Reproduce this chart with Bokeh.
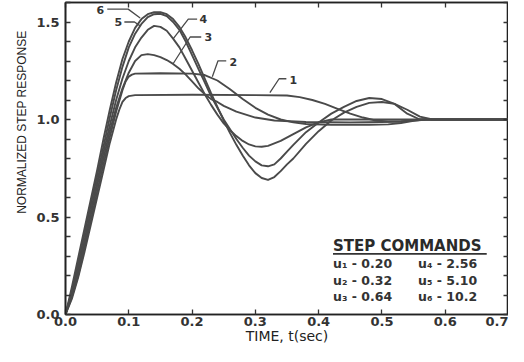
from bokeh.plotting import figure
from bokeh.models import FixedTicker, LinearAxis, Range1d, PrintfTickFormatter, CustomJSTickFormatter, Title
from bokeh.embed import file_html
from bokeh.resources import INLINE
from bokeh.core.properties import value

# ---------------- data ----------------
t_1 = [0, 0.01, 0.02, 0.03, 0.04, 0.05, 0.06, 0.07, 0.08, 0.085, 0.09, 0.095, 0.10, 0.11, 0.20, 0.30, 0.35,
       0.37, 0.39, 0.41, 0.43, 0.45, 0.47, 0.49, 0.51, 0.53, 0.55, 0.57, 0.60, 0.70]
y_1 = [0, 0.08, 0.19, 0.32, 0.46, 0.60, 0.74, 0.88, 1.00, 1.05, 1.09, 1.11, 1.12, 1.125, 1.127, 1.125, 1.123,
       1.115, 1.10, 1.08, 1.055, 1.03, 1.01, 0.995, 0.99, 0.99, 0.995, 1.0, 1.0, 1.0]

t_2 = [0, 0.01, 0.02, 0.03, 0.04, 0.05, 0.06, 0.07, 0.08, 0.09, 0.095, 0.10, 0.105, 0.11, 0.15, 0.20, 0.22,
       0.24, 0.26, 0.28, 0.30, 0.32, 0.34, 0.36, 0.38, 0.42, 0.48, 0.51, 0.53, 0.55, 0.57, 0.70]
y_2 = [0, 0.09, 0.20, 0.34, 0.48, 0.63, 0.77, 0.91, 1.04, 1.15, 1.195, 1.22, 1.23, 1.235, 1.237, 1.235, 1.228,
       1.20, 1.155, 1.105, 1.06, 1.025, 1.0, 0.985, 0.977, 0.973, 0.973, 0.975, 0.982, 0.993, 1.0, 1.0]

t_3 = [0, 0.01, 0.02, 0.03, 0.04, 0.05, 0.06, 0.07, 0.08, 0.09, 0.10, 0.11, 0.12, 0.13, 0.14, 0.15, 0.16,
       0.17, 0.18, 0.19, 0.20, 0.21, 0.22, 0.23, 0.24, 0.25, 0.27, 0.30, 0.33, 0.38, 0.45, 0.50, 0.53, 0.56, 0.70]
y_3 = [0, 0.10, 0.22, 0.36, 0.51, 0.66, 0.80, 0.94, 1.06, 1.16, 1.24, 1.30, 1.33, 1.335, 1.33, 1.32, 1.305,
       1.285, 1.26, 1.23, 1.195, 1.16, 1.13, 1.105, 1.09, 1.07, 1.04, 1.01, 0.995, 0.987, 0.985, 0.987, 0.99, 1.0, 1.0]

t_4 = [0, 0.01, 0.02, 0.03, 0.04, 0.05, 0.06, 0.07, 0.08, 0.09, 0.10, 0.11, 0.12, 0.13, 0.14, 0.15, 0.16,
       0.17, 0.18, 0.19, 0.20, 0.21, 0.22, 0.23, 0.24, 0.25, 0.26, 0.27, 0.28, 0.29, 0.30, 0.31, 0.32, 0.34,
       0.36, 0.38, 0.40, 0.42, 0.70]
y_4 = [0, 0.11, 0.24, 0.38, 0.53, 0.68, 0.83, 0.97, 1.10, 1.21, 1.30, 1.37, 1.42, 1.46, 1.48, 1.475, 1.455,
       1.415, 1.37, 1.31, 1.25, 1.19, 1.13, 1.075, 1.025, 0.98, 0.945, 0.915, 0.89, 0.872, 0.862, 0.86, 0.865, 0.89,
       0.925, 0.96, 0.985, 1.0, 1.0]

t_5 = [0, 0.01, 0.02, 0.03, 0.04, 0.05, 0.06, 0.07, 0.08, 0.09, 0.10, 0.11, 0.12, 0.13, 0.14, 0.15, 0.16,
       0.17, 0.18, 0.19, 0.20, 0.21, 0.22, 0.23, 0.24, 0.25, 0.26, 0.27, 0.28, 0.29, 0.30, 0.31, 0.32, 0.33,
       0.34, 0.35, 0.36, 0.38, 0.40, 0.42, 0.44, 0.46, 0.48, 0.50, 0.52, 0.54, 0.56, 0.58, 0.70]
y_5 = [0, 0.12, 0.26, 0.41, 0.56, 0.71, 0.86, 1.01, 1.15, 1.27, 1.37, 1.44, 1.49, 1.525, 1.54, 1.542, 1.53,
       1.50, 1.46, 1.40, 1.33, 1.26, 1.19, 1.12, 1.06, 1.0, 0.95, 0.90, 0.855, 0.815, 0.785, 0.765, 0.76, 0.77,
       0.80, 0.835, 0.87, 0.935, 0.985, 1.03, 1.065, 1.095, 1.11, 1.105, 1.08, 1.03, 1.0, 1.0, 1.0]

t_6 = [0, 0.01, 0.02, 0.03, 0.04, 0.05, 0.06, 0.07, 0.08, 0.09, 0.10, 0.11, 0.12, 0.13, 0.14, 0.15, 0.16,
       0.17, 0.18, 0.19, 0.20, 0.21, 0.22, 0.23, 0.24, 0.25, 0.26, 0.27, 0.28, 0.29, 0.30, 0.31, 0.32, 0.33,
       0.34, 0.35, 0.36, 0.38, 0.40, 0.42, 0.44, 0.46, 0.48, 0.50, 0.52, 0.54, 0.56, 0.58, 0.70]
y_6 = [0, 0.14, 0.29, 0.44, 0.59, 0.74, 0.90, 1.05, 1.19, 1.31, 1.40, 1.47, 1.515, 1.54, 1.55, 1.55, 1.54,
       1.515, 1.475, 1.42, 1.355, 1.285, 1.21, 1.135, 1.065, 0.995, 0.93, 0.87, 0.815, 0.765, 0.725, 0.70, 0.69,
       0.705, 0.735, 0.77, 0.80, 0.875, 0.94, 0.995, 1.035, 1.065, 1.085, 1.09, 1.08, 1.05, 1.015, 1.0, 1.0]

curve_names = ["1", "2", "3", "4", "5", "6"]
step_names = ["u\u2081", "u\u2082", "u\u2083", "u\u2084", "u\u2085", "u\u2086"]
step_values = ["0.20", "0.32", "0.64", "2.56", "5.10", "10.2"]
x_ticks = [0.0, 0.1, 0.2, 0.3, 0.4, 0.5, 0.6, 0.7]
y_ticks = [0.0, 0.5, 1.0, 1.5]
y_minor = [0.1, 0.2, 0.3, 0.4, 0.6, 0.7, 0.8, 0.9, 1.1, 1.2, 1.3, 1.4, 1.6]
x_title = "TIME, t(sec)"
y_title = "NORMALIZED STEP RESPONSE"

# --------------- figure ----------------
INK = "#333333"
LINE = "#4a4a4a"
FONT = "Liberation Sans"
WIDE = "DejaVu Sans"

p = figure(width=508, height=346, x_range=Range1d(0, 0.7), y_range=Range1d(0, 1.6),
           output_backend="svg", toolbar_location=None,
           min_border_left=65, min_border_top=2, min_border_right=0, min_border_bottom=0)
p.xgrid.visible = False
p.ygrid.visible = False
p.outline_line_color = "#222222"
p.outline_line_width = 1.6
p.background_fill_color = "white"
p.border_fill_color = "white"

xt = FixedTicker(ticks=x_ticks)
yt = FixedTicker(ticks=y_ticks, minor_ticks=y_minor)
blank = CustomJSTickFormatter(code="return ''")


def style_axis(ax, labels=True):
    ax.axis_line_color = "#222222"
    ax.axis_line_width = 1.6
    ax.major_tick_in = 5
    ax.major_tick_out = 0
    ax.minor_tick_in = 5
    ax.minor_tick_out = 0
    ax.major_tick_line_color = "#333333"
    ax.minor_tick_line_color = "#333333"
    ax.major_tick_line_width = 1.3
    ax.minor_tick_line_width = 1.3
    ax.major_label_text_font = WIDE
    ax.major_label_text_font_style = "bold"
    ax.major_label_text_color = INK
    ax.major_label_text_font_size = "13px"
    if not labels:
        ax.formatter = blank
        ax.major_label_standoff = 0
        ax.major_label_text_font_size = "2px"
        ax.axis_label_standoff = 0


p.xaxis.ticker = xt
p.yaxis.ticker = yt
style_axis(p.xaxis[0])
style_axis(p.yaxis[0])
p.xaxis.formatter = PrintfTickFormatter(format="%.1f")
p.yaxis.formatter = PrintfTickFormatter(format="%.1f")
p.xaxis.major_label_standoff = 2
p.yaxis.major_label_standoff = 6
p.yaxis.major_label_orientation = "horizontal"

p.xaxis.axis_label = x_title
p.xaxis.axis_label_text_font = WIDE
p.xaxis.axis_label_text_font_size = "14px"
p.xaxis.axis_label_text_font_style = "normal"
p.xaxis.axis_label_text_color = "#222222"
p.xaxis.axis_label_standoff = -1

ra = LinearAxis(ticker=yt)
style_axis(ra, labels=False)
p.add_layout(ra, "right")
ta = LinearAxis(ticker=xt)
style_axis(ta, labels=False)
p.add_layout(ta, "above")

# y title as a side title, pushed toward the top like in the reference
yt_title = Title(text=y_title, align="right", offset=28, text_font=FONT, text_font_size="12px",
                 text_font_style="normal", text_color="#222222", standoff=10)
p.add_layout(yt_title, "left")

# --------------- curves ----------------
for tt, yy in [(t_1, y_1), (t_2, y_2), (t_3, y_3), (t_4, y_4), (t_5, y_5), (t_6, y_6)]:
    p.line(tt, yy, line_color=LINE, line_width=1.9, line_join="round")

# --------------- curve labels with leader lines ----------------
label_x = [0.360, 0.265, 0.2256, 0.2177, 0.0836, 0.055]
label_y = [1.204, 1.296, 1.423, 1.515, 1.500, 1.561]
leader_xs = [[0.349, 0.3375, 0.323], [0.254, 0.241, 0.232], [0.2145, 0.197, 0.170],
             [0.208, 0.194, 0.170], [0.093, 0.109, 0.118], [0.066, 0.099, 0.118]]
leader_ys = [[1.209, 1.209, 1.138], [1.301, 1.301, 1.219], [1.423, 1.423, 1.286],
             [1.515, 1.515, 1.413], [1.500, 1.500, 1.480], [1.566, 1.566, 1.520]]
p.multi_line(leader_xs, leader_ys, line_color=LINE, line_width=1.3)
p.text(label_x, label_y, text=curve_names, text_font=value(WIDE), text_font_style="bold",
       text_font_size="11px", text_color=INK, text_align="center", text_baseline="middle")

# --------------- step command table ----------------
p.text([0.4227], [0.352], text=["STEP COMMANDS"], text_font=value(WIDE), text_font_style="bold",
       text_font_size="15px", text_color="#2a2a2a", text_align="left", text_baseline="middle")
p.line([0.4227, 0.6656], [0.311, 0.311], line_color="#333333", line_width=1.8)

col_x = [0.4227, 0.4227, 0.4227, 0.557, 0.557, 0.557]
row_y = [0.260, 0.173, 0.092, 0.260, 0.173, 0.092]
rows = [f"{n} - {v}" for n, v in zip(step_names, step_values)]
p.text(col_x, row_y, text=rows, text_font=value(WIDE), text_font_style="bold",
       text_font_size="12.5px", text_color=INK, text_align="left", text_baseline="middle")

open("out.html", "w").write(file_html(p, INLINE))
